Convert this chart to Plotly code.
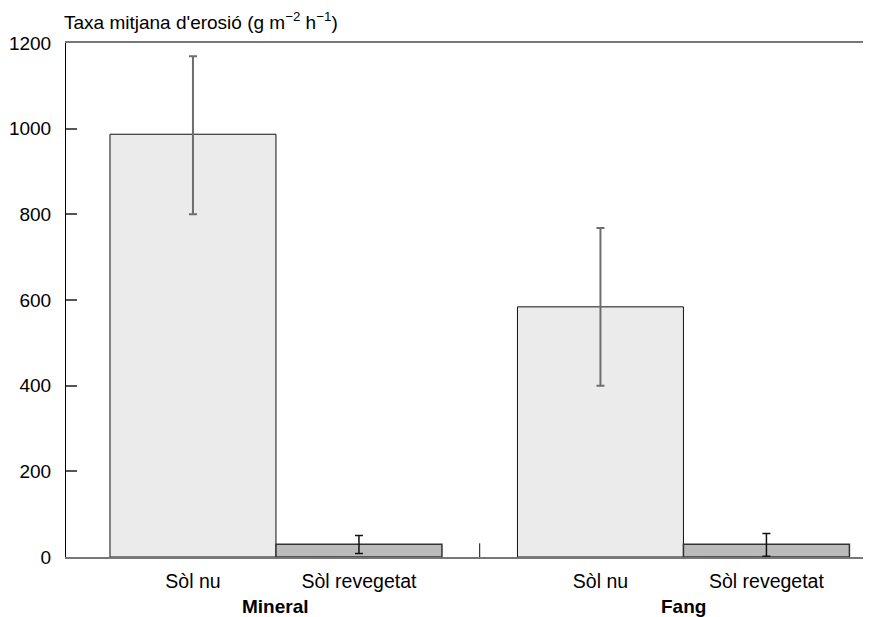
import plotly.graph_objects as go

# Data
groups = ["Mineral", "Fang"]
treatments = ["Sòl nu", "Sòl revegetat"]
nu_vals = [987, 584]
nu_err_plus = [182, 184]
nu_err_minus = [187, 184]
rev_vals = [30, 30]
rev_err_plus = [20, 25]
rev_err_minus = [22, 28]
y_ticks = [0, 200, 400, 600, 800, 1000, 1200]

# positions (bar units)
nu_pos = [0.765, 3.22]
rev_pos = [1.765, 4.22]
sep_pos = (rev_pos[0] + nu_pos[1]) / 2

FONT = "Liberation Sans, Arial, sans-serif"

fig = go.Figure()
fig.add_trace(go.Bar(
    x=nu_pos, y=nu_vals, width=1,
    marker=dict(color="#ebebeb", line=dict(color="#111111", width=1)),
    error_y=dict(type="data", array=nu_err_plus, arrayminus=nu_err_minus,
                 color="#6e6e6e", thickness=2, width=4),
    showlegend=False, hoverinfo="y"))
fig.add_trace(go.Bar(
    x=rev_pos, y=rev_vals, width=1,
    marker=dict(color="#bbbbbb", line=dict(color="#333333", width=1.5)),
    error_y=dict(type="data", array=rev_err_plus, arrayminus=rev_err_minus,
                 color="#111111", thickness=1.5, width=4),
    showlegend=False, hoverinfo="y"))

# separator tick between groups
fig.add_shape(type="line", xref="x", yref="y", x0=sep_pos, x1=sep_pos,
              y0=0, y1=32, line=dict(color="#111111", width=1))

# group labels
for g, a, b in zip(groups, nu_pos, rev_pos):
    fig.add_annotation(x=(a + b) / 2, y=0, xref="x", yref="paper",
                       yanchor="top", yshift=-37, text="<b>" + g + "</b>",
                       showarrow=False,
                       font=dict(family=FONT, size=19, color="#000"))

# axis title
fig.add_annotation(x=0, y=1, xref="paper", yref="paper", xanchor="left",
                   yanchor="bottom", yshift=8, xshift=-4,
                   text="Taxa mitjana d'erosió (g m<sup>−2</sup> h<sup>−1</sup>)",
                   showarrow=False,
                   font=dict(family=FONT, size=19, color="#000"))

fig.update_layout(
    width=863, height=609,
    margin=dict(l=58, r=0, t=35, b=60),
    plot_bgcolor="white", paper_bgcolor="white",
    barmode="overlay",
    font=dict(family=FONT, size=19, color="#000"),
    xaxis=dict(range=[0, 4.85], tickvals=nu_pos + rev_pos,
               ticktext=[treatments[0]] * 2 + [treatments[1]] * 2,
               tickfont=dict(family=FONT, size=19.5, color="#000"),
               showgrid=False, zeroline=False, showline=True, mirror=True,
               linecolor="#777777", linewidth=2, ticks="", ticklen=0,
               ticklabelstandoff=6, fixedrange=True),
    yaxis=dict(range=[0, 1200], tickvals=y_ticks, showgrid=False, zeroline=False,
               tickfont=dict(family=FONT, size=19, color="#000"),
               showline=True, linecolor="#000000", linewidth=1,
               ticks="inside", ticklen=11, tickcolor="#555555", tickwidth=1.5,
               ticklabelstandoff=10, fixedrange=True),
)

fig.write_html("out.html")
